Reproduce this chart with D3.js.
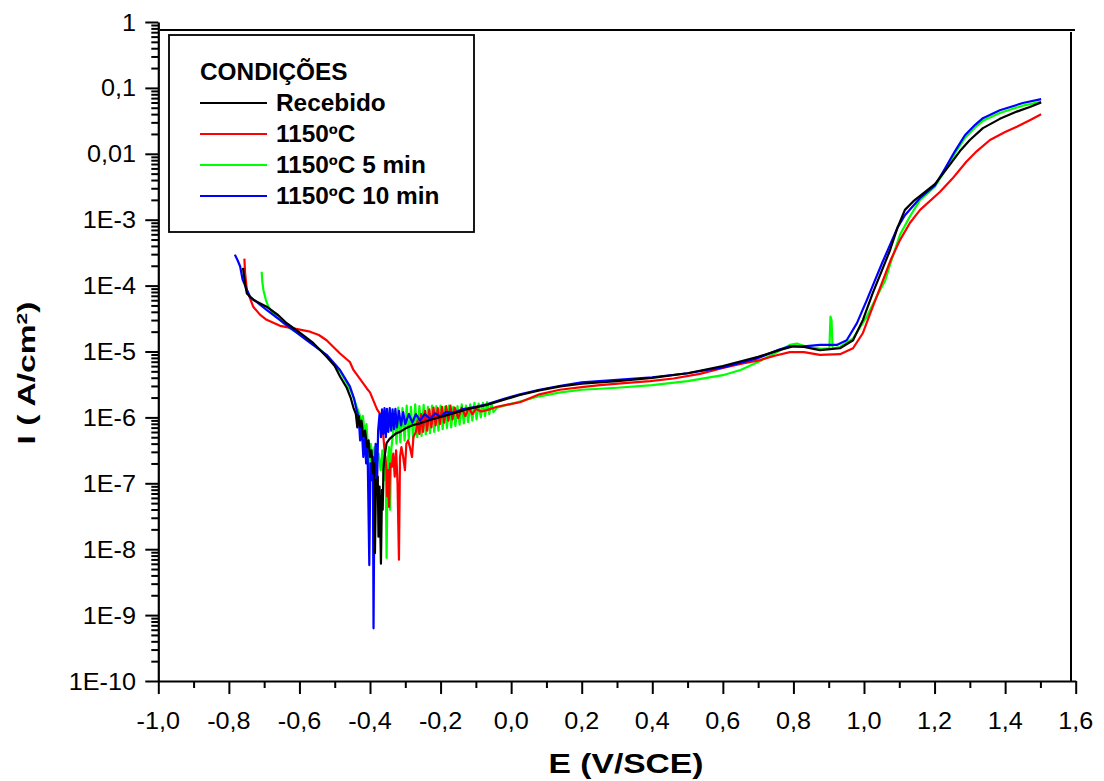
<!DOCTYPE html>
<html>
<head>
<meta charset="utf-8">
<script src="https://cdn.jsdelivr.net/npm/d3@7/dist/d3.min.js"></script>
<style>
  html, body { margin: 0; padding: 0; background: #fff; }
  svg { display: block; }
  text { font-family: "Liberation Sans", Arial, sans-serif; fill: #000; }
</style>
</head>
<body>
<svg id="chart" width="1104" height="781"></svg>
<script>
// Potentiodynamic polarisation curves: potential E (V/SCE) and current density I (A/cm²)

const seriesNames = ["Recebido", "1150ºC", "1150ºC 5 min", "1150ºC 10 min"];
const seriesColors = ["#000000", "#ff0000", "#00ff00", "#0000ff"];

const recebidoE = [-0.760,-0.754,-0.749,-0.730,-0.693,-0.660,-0.636,-0.598,-0.561,-0.523,-0.500,-0.485,-0.466,-0.455,-0.447,-0.440,-0.436,-0.432,-0.428,-0.424,-0.419,-0.414,-0.408,-0.404,-0.400,-0.396,-0.391,-0.388,-0.386,-0.383,-0.381,-0.378,-0.376,-0.373,-0.369,-0.366,-0.364,-0.362,-0.360,-0.356,-0.353,-0.345,-0.335,-0.325,-0.315,-0.300,-0.280,-0.258,-0.230,-0.200,-0.164,-0.120,-0.069,-0.020,0.025,0.080,0.140,0.200,0.300,0.400,0.500,0.600,0.700,0.760,0.800,0.830,0.875,0.932,0.969,0.997,1.025,1.050,1.074,1.095,1.116,1.140,1.159,1.201,1.244,1.272,1.300,1.337,1.385,1.433,1.470,1.502];
const recebidoI = [1.86e-4,1.05e-4,7.59e-5,6.03e-5,4.79e-5,3.55e-5,2.69e-5,1.91e-5,1.35e-5,8.32e-6,6.03e-6,4.17e-6,2.82e-6,2.0e-6,1.41e-6,1.12e-6,7.08e-7,1.05e-6,7.24e-7,8.91e-7,5.13e-7,6.31e-7,3.55e-7,4.47e-7,2.51e-7,3.16e-7,1.41e-7,2.0e-7,8.71e-9,1.12e-7,7.08e-8,1.26e-7,1.55e-8,8.91e-8,6.03e-9,7.94e-8,3.98e-8,1.58e-7,2.24e-7,3.16e-7,4.07e-7,4.68e-7,5.25e-7,5.75e-7,6.03e-7,6.76e-7,7.59e-7,8.13e-7,9.12e-7,1.02e-6,1.15e-6,1.35e-6,1.55e-6,1.86e-6,2.19e-6,2.57e-6,2.95e-6,3.24e-6,3.55e-6,3.98e-6,4.68e-6,6.03e-6,8.32e-6,1.05e-5,1.2e-5,1.17e-5,1.05e-5,1.12e-5,1.48e-5,3.02e-5,7.76e-5,1.66e-4,3.47e-4,7.59e-4,1.41e-3,1.91e-3,2.29e-3,3.47e-3,6.92e-3,1.1e-2,1.62e-2,2.45e-2,3.39e-2,4.37e-2,5.13e-2,6.03e-2];

const t1150E = [-0.756,-0.754,-0.749,-0.731,-0.712,-0.693,-0.655,-0.617,-0.570,-0.545,-0.523,-0.485,-0.457,-0.447,-0.428,-0.409,-0.400,-0.390,-0.380,-0.371,-0.366,-0.362,-0.358,-0.354,-0.351,-0.349,-0.346,-0.343,-0.338,-0.334,-0.330,-0.326,-0.322,-0.318,-0.315,-0.311,-0.306,-0.301,-0.297,-0.292,-0.287,-0.281,-0.277,-0.270,-0.265,-0.260,-0.255,-0.250,-0.244,-0.238,-0.232,-0.226,-0.220,-0.214,-0.208,-0.202,-0.196,-0.190,-0.184,-0.178,-0.172,-0.166,-0.160,-0.150,-0.140,-0.130,-0.120,-0.110,-0.100,-0.085,-0.069,-0.040,0.025,0.080,0.138,0.200,0.252,0.320,0.394,0.460,0.535,0.600,0.650,0.705,0.750,0.790,0.830,0.875,0.932,0.969,0.997,1.025,1.051,1.075,1.102,1.130,1.159,1.215,1.250,1.290,1.320,1.357,1.400,1.433,1.470,1.502];
const t1150I = [2.57e-4,1.55e-4,8.51e-5,4.79e-5,3.63e-5,3.02e-5,2.45e-5,2.24e-5,2.0e-5,1.78e-5,1.48e-5,9.33e-6,6.92e-6,5.25e-6,3.8e-6,2.75e-6,2.4e-6,1.78e-6,1.32e-6,1.12e-6,7.94e-7,5.01e-7,2.82e-7,1.78e-7,6.31e-8,1.58e-7,4.37e-8,2.0e-7,1.78e-7,2.82e-7,1.26e-7,3.16e-7,1.0e-7,6.92e-9,2.51e-7,3.55e-7,2.51e-7,1.58e-7,3.98e-7,4.47e-7,3.55e-7,2.51e-7,5.01e-7,6.03e-7,8.91e-7,5.62e-7,1.12e-6,6.03e-7,1.26e-6,6.31e-7,1.32e-6,7.08e-7,1.41e-6,7.59e-7,1.38e-6,7.94e-7,1.45e-6,8.32e-7,1.48e-6,8.91e-7,1.51e-6,9.33e-7,1.41e-6,9.77e-7,1.41e-6,1.05e-6,1.38e-6,1.12e-6,1.35e-6,1.23e-6,1.29e-6,1.45e-6,1.7e-6,2.24e-6,2.63e-6,2.88e-6,3.09e-6,3.31e-6,3.55e-6,3.89e-6,4.57e-6,5.62e-6,6.46e-6,7.41e-6,8.71e-6,9.77e-6,9.77e-6,8.91e-6,9.12e-6,1.12e-5,1.91e-5,4.79e-5,1.1e-4,2.4e-4,4.9e-4,8.91e-4,1.41e-3,2.63e-3,4.17e-3,7.59e-3,1.1e-2,1.62e-2,2.14e-2,2.57e-2,3.24e-2,3.98e-2];

const t1150m5E = [-0.707,-0.705,-0.702,-0.695,-0.688,-0.675,-0.650,-0.627,-0.600,-0.570,-0.540,-0.510,-0.485,-0.466,-0.450,-0.440,-0.430,-0.425,-0.420,-0.415,-0.410,-0.405,-0.402,-0.398,-0.392,-0.387,-0.382,-0.376,-0.370,-0.365,-0.360,-0.356,-0.353,-0.350,-0.346,-0.343,-0.340,-0.335,-0.330,-0.325,-0.320,-0.314,-0.308,-0.302,-0.296,-0.290,-0.284,-0.278,-0.272,-0.266,-0.260,-0.254,-0.248,-0.242,-0.236,-0.230,-0.224,-0.218,-0.212,-0.206,-0.200,-0.194,-0.188,-0.182,-0.176,-0.170,-0.164,-0.158,-0.152,-0.146,-0.140,-0.134,-0.128,-0.122,-0.116,-0.110,-0.104,-0.098,-0.092,-0.086,-0.080,-0.074,-0.068,-0.062,-0.056,-0.050,-0.040,-0.020,0.025,0.080,0.140,0.200,0.300,0.400,0.500,0.600,0.650,0.700,0.750,0.790,0.810,0.840,0.880,0.902,0.905,0.908,0.911,0.932,0.969,1.008,1.036,1.060,1.080,1.102,1.130,1.159,1.201,1.230,1.258,1.286,1.315,1.337,1.385,1.450,1.502];
const t1150m5I = [1.62e-4,1.12e-4,8.51e-5,6.03e-5,4.79e-5,3.8e-5,2.82e-5,2.24e-5,1.86e-5,1.41e-5,1.05e-5,7.24e-6,5.01e-6,3.31e-6,2.24e-6,1.58e-6,1.12e-6,8.91e-7,1.05e-6,5.62e-7,7.94e-7,2.82e-7,1.26e-7,3.98e-7,2.51e-7,3.55e-7,2.0e-7,2.82e-7,1.58e-7,3.16e-7,1.12e-7,2.51e-7,7.41e-9,2.0e-7,3.55e-7,3.98e-8,3.16e-7,5.62e-7,1.26e-6,3.98e-7,1.41e-6,4.17e-7,1.38e-6,4.47e-7,1.51e-6,4.68e-7,1.45e-6,4.79e-7,1.58e-6,5.01e-7,1.48e-6,5.25e-7,1.55e-6,5.5e-7,1.45e-6,5.75e-7,1.51e-6,6.03e-7,1.48e-6,6.31e-7,1.51e-6,6.61e-7,1.45e-6,6.92e-7,1.51e-6,7.08e-7,1.45e-6,7.41e-7,1.48e-6,7.76e-7,1.58e-6,8.13e-7,1.51e-6,8.51e-7,1.58e-6,8.91e-7,1.66e-6,9.33e-7,1.62e-6,1.0e-6,1.66e-6,1.05e-6,1.7e-6,1.12e-6,1.66e-6,1.2e-6,1.41e-6,1.51e-6,1.74e-6,2.09e-6,2.4e-6,2.63e-6,2.82e-6,3.09e-6,3.55e-6,4.37e-6,5.25e-6,6.92e-6,9.55e-6,1.26e-5,1.32e-5,1.17e-5,1.1e-5,1.12e-5,3.39e-5,3.02e-5,1.12e-5,1.17e-5,1.58e-5,3.39e-5,6.76e-5,1.2e-4,2.63e-4,5.89e-4,1.12e-3,2.0e-3,3.16e-3,5.62e-3,1.02e-2,1.74e-2,2.51e-2,3.16e-2,4.17e-2,5.37e-2,6.17e-2];

const t1150m10E = [-0.783,-0.775,-0.768,-0.761,-0.750,-0.740,-0.693,-0.636,-0.579,-0.523,-0.485,-0.457,-0.445,-0.438,-0.432,-0.428,-0.424,-0.419,-0.415,-0.411,-0.407,-0.402,-0.399,-0.395,-0.392,-0.390,-0.387,-0.384,-0.380,-0.377,-0.373,-0.369,-0.366,-0.362,-0.359,-0.355,-0.352,-0.348,-0.344,-0.340,-0.336,-0.332,-0.328,-0.324,-0.318,-0.312,-0.306,-0.300,-0.290,-0.280,-0.270,-0.258,-0.245,-0.230,-0.215,-0.200,-0.185,-0.164,-0.140,-0.120,-0.100,-0.069,-0.020,0.025,0.080,0.140,0.200,0.300,0.400,0.500,0.600,0.700,0.760,0.790,0.830,0.875,0.923,0.951,0.980,1.008,1.031,1.052,1.074,1.095,1.116,1.159,1.201,1.230,1.258,1.286,1.315,1.337,1.385,1.450,1.502];
const t1150m10I = [2.95e-4,2.4e-4,1.95e-4,1.23e-4,8.91e-5,6.76e-5,4.27e-5,2.51e-5,1.48e-5,8.91e-6,5.25e-6,2.95e-6,1.91e-6,1.29e-6,1.0e-6,4.47e-7,7.94e-7,2.51e-7,5.01e-7,2.0e-7,3.55e-7,5.75e-9,2.0e-7,1.12e-7,2.51e-7,6.31e-10,1.58e-7,3.98e-7,1.0e-7,6.31e-7,1.12e-6,5.01e-7,1.32e-6,5.62e-7,1.38e-6,5.01e-7,1.35e-6,6.03e-7,1.38e-6,6.31e-7,1.32e-6,6.61e-7,1.35e-6,7.08e-7,1.26e-6,7.59e-7,1.2e-6,7.94e-7,1.12e-6,8.32e-7,1.12e-6,8.91e-7,1.12e-6,9.55e-7,1.15e-6,1.02e-6,1.2e-6,1.17e-6,1.32e-6,1.38e-6,1.45e-6,1.58e-6,1.91e-6,2.24e-6,2.63e-6,3.02e-6,3.39e-6,3.72e-6,4.07e-6,4.68e-6,5.75e-6,7.94e-6,1.07e-5,1.2e-5,1.2e-5,1.26e-5,1.26e-5,1.48e-5,2.69e-5,6.03e-5,1.2e-4,2.24e-4,4.17e-4,7.59e-4,1.17e-3,2.14e-3,3.31e-3,6.03e-3,1.1e-2,1.91e-2,2.75e-2,3.47e-2,4.57e-2,5.89e-2,6.76e-2];

const xTicks = [-1.0,-0.8,-0.6,-0.4,-0.2,0.0,0.2,0.4,0.6,0.8,1.0,1.2,1.4,1.6];
const xMinorTicks = [-0.9,-0.7,-0.5,-0.3,-0.1,0.1,0.3,0.5,0.7,0.9,1.1,1.3,1.5];
const yTicks = [1, 0.1, 0.01, 1e-3, 1e-4, 1e-5, 1e-6, 1e-7, 1e-8, 1e-9, 1e-10];
const yTickLabels = ["1", "0,1", "0,01", "1E-3", "1E-4", "1E-5", "1E-6", "1E-7", "1E-8", "1E-9", "1E-10"];

const svg = d3.select("#chart");

const x = d3.scaleLinear().domain([-1.0, 1.6]).range([158.3, 1075.7]);
const y = d3.scaleLog().domain([1e-10, 1]).range([681, 22]);

// minor ticks of the log axis: 2..9 × each decade
const yMinorTicks = [];
for (let k = -10; k < 0; k++) {
  for (let m = 2; m <= 9; m++) yMinorTicks.push(m * Math.pow(10, k));
}

// frame lines on top and right
svg.append("line").attr("x1", 160).attr("x2", 1075).attr("y1", 30).attr("y2", 30)
  .attr("stroke", "#000").attr("stroke-width", 2);
svg.append("line").attr("x1", 1071).attr("x2", 1071).attr("y1", 32).attr("y2", 681)
  .attr("stroke", "#000").attr("stroke-width", 2);

// curves
const line = d3.line().x(d => x(d[0])).y(d => y(d[1]));
const series = [
  { E: t1150m5E, I: t1150m5I, c: seriesColors[2] },
  { E: t1150E, I: t1150I, c: seriesColors[1] },
  { E: t1150m10E, I: t1150m10I, c: seriesColors[3] },
  { E: recebidoE, I: recebidoI, c: seriesColors[0] }
];
const plot = svg.append("g");
series.forEach(s => {
  plot.append("path")
    .datum(s.E.map((e, i) => [e, s.I[i]]))
    .attr("d", line)
    .attr("fill", "none")
    .attr("stroke", s.c)
    .attr("stroke-width", 2.2)
    .attr("stroke-linejoin", "round");
});

// bottom axis
svg.append("g").attr("transform", "translate(0,681)")
  .call(d3.axisBottom(x).tickValues(xTicks).tickSize(13).tickSizeOuter(0).tickFormat(""));
svg.append("g").attr("transform", "translate(0,681)")
  .call(d3.axisBottom(x).tickValues(xMinorTicks).tickSize(7).tickSizeOuter(0).tickFormat(""))
  .select(".domain").remove();

// left axis
svg.append("g").attr("transform", "translate(158.3,0)")
  .call(d3.axisLeft(y).tickValues(yTicks).tickSize(13).tickSizeOuter(0).tickFormat(""));
svg.append("g").attr("transform", "translate(158.3,0)")
  .call(d3.axisLeft(y).tickValues(yMinorTicks).tickSize(7).tickSizeOuter(0).tickFormat(""))
  .select(".domain").remove();

svg.selectAll(".domain").attr("stroke", "#000").attr("stroke-width", 2.2);
svg.selectAll(".tick line").attr("stroke", "#000").attr("stroke-width", 2);

// tick labels
const fmt = v => v.toFixed(1).replace(".", ",");
svg.append("g").selectAll("text").data(xTicks).join("text")
  .attr("transform", d => `translate(${x(d)},729) scale(1.05,1)`)
  .attr("text-anchor", "middle")
  .style("font-size", "24px")
  .text(d => fmt(d));

svg.append("g").selectAll("text").data(yTicks).join("text")
  .attr("transform", d => `translate(136,${y(d) + 8.5}) scale(1.05,1)`)
  .attr("text-anchor", "end")
  .style("font-size", "24px")
  .text((d, i) => yTickLabels[i]);

// axis titles
svg.append("text")
  .attr("transform", "translate(626,773) scale(1.2,1)")
  .attr("text-anchor", "middle")
  .style("font-size", "28px").style("font-weight", "bold")
  .text("E (V/SCE)");

const yTitle = svg.append("text")
  .attr("text-anchor", "middle")
  .style("font-size", "24px").style("font-weight", "bold");
yTitle.append("tspan").text("I ( A/cm");
yTitle.append("tspan").attr("baseline-shift", "super").style("font-size", "15px").text("2");
yTitle.append("tspan").text(")");
const yLen = yTitle.node().getComputedTextLength();
yTitle.attr("transform", `translate(35,373) rotate(-90) scale(${143 / yLen},1)`);

// legend
const legend = svg.append("g");
legend.append("rect").attr("x", 169).attr("y", 35).attr("width", 305).attr("height", 197)
  .attr("fill", "#fff").attr("stroke", "#000").attr("stroke-width", 1.8);
legend.append("text")
  .attr("transform", "translate(200,80) scale(1.06,1)")
  .style("font-size", "23px").style("font-weight", "bold")
  .text("CONDIÇÕES");
seriesNames.forEach((name, i) => {
  const yy = 111 + i * 31;
  legend.append("line").attr("x1", 200).attr("x2", 267).attr("y1", yy - 8).attr("y2", yy - 8)
    .attr("stroke", seriesColors[i]).attr("stroke-width", 2.2);
  legend.append("text")
    .attr("transform", `translate(276,${yy}) scale(1.06,1)`)
    .style("font-size", "23px").style("font-weight", "bold")
    .text(name);
});
</script>
</body>
</html>
